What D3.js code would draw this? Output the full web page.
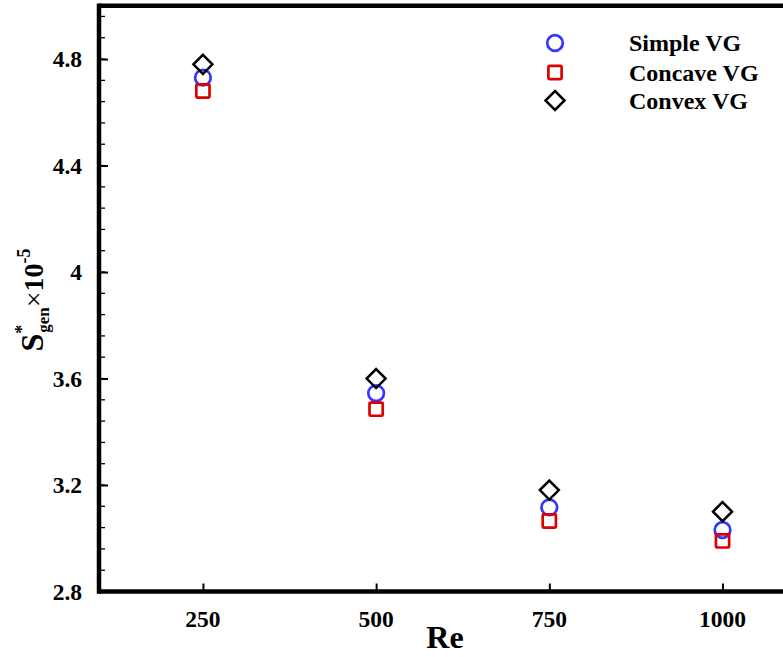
<!DOCTYPE html>
<html>
<head>
<meta charset="utf-8">
<script src="https://cdn.jsdelivr.net/npm/d3@7"></script>
<style>
  html, body { margin: 0; padding: 0; background: #fff; }
  svg { display: block; }
  text { font-family: "Liberation Serif", "Times New Roman", serif; font-weight: bold; }
</style>
</head>
<body>
<svg id="chart" width="783" height="657"></svg>
<script>
const reynolds = [250, 500, 750, 1000];
const simpleVG = [4.73, 3.545, 3.116, 3.031];
const concaveVG = [4.68, 3.485, 3.065, 2.99];
const convexVG = [4.78, 3.60, 3.181, 3.10];
const seriesNames = ["Simple VG", "Concave VG", "Convex VG"];
const xTicks = [250, 500, 750, 1000];
const yTicks = [2.8, 3.2, 3.6, 4.0, 4.4, 4.8];
const yTickLabels = ["2.8", "3.2", "3.6", "4", "4.4", "4.8"];

const svg = d3.select("#chart");
const x = d3.scaleLinear().domain([100, 1100]).range([99, 791.8]);
const y = d3.scaleLinear().domain([2.8, 5.0]).range([591.5, 5.8]);

const colors = ["#3535ff", "#dd0000", "#000000"];
const series = [simpleVG, concaveVG, convexVG];
const shapes = ["circle", "square", "diamond"];

// minor y ticks
const minorY = d3.range(0, 28).map(i => +(2.8 + i * 0.08).toFixed(2)).filter(v => v <= 5.0);
svg.append("g").selectAll("line").data(minorY).join("line")
  .attr("x1", x(100)).attr("x2", x(100) + 6)
  .attr("y1", d => y(d)).attr("y2", d => y(d))
  .attr("stroke", "#000").attr("stroke-width", 1.3);

// major y ticks
const yAxis = d3.axisRight(y).tickValues(yTicks).tickSize(9).tickFormat("");
const gy = svg.append("g").attr("transform", `translate(${x(100)},0)`).call(yAxis);
gy.select(".domain").remove();
gy.selectAll(".tick line").attr("stroke-width", 2);

// y tick labels
svg.append("g").selectAll("text").data(yTicks).join("text")
  .attr("x", 82).attr("y", d => y(d)).attr("dy", "0.35em")
  .attr("text-anchor", "end").attr("font-size", 23.5)
  .text((d, i) => yTickLabels[i]);

// x ticks
const xAxis = d3.axisTop(x).tickValues(xTicks).tickSize(8).tickFormat("");
const gx = svg.append("g").attr("transform", `translate(0,${y(2.8)})`).call(xAxis);
gx.select(".domain").remove();
gx.selectAll(".tick line").attr("stroke-width", 2);

svg.append("g").selectAll("text").data(xTicks).join("text")
  .attr("x", d => x(d)).attr("y", 626.5)
  .attr("text-anchor", "middle").attr("font-size", 23.5)
  .text(d => d);

// frame lines
svg.append("line").attr("x1", x(100)).attr("x2", x(1100)).attr("y1", y(2.8)).attr("y2", y(2.8))
  .attr("stroke", "#000").attr("stroke-width", 4.5);
svg.append("line").attr("x1", x(100)).attr("x2", x(1100)).attr("y1", y(5.0)).attr("y2", y(5.0))
  .attr("stroke", "#000").attr("stroke-width", 4.5);
svg.append("line").attr("x1", x(100)).attr("x2", x(100)).attr("y1", y(5.0) - 2.25).attr("y2", y(2.8) + 2.25)
  .attr("stroke", "#000").attr("stroke-width", 4.5);

// markers
function drawMarker(g, shape, cx, cy, color) {
  if (shape === "circle") {
    g.append("circle").attr("cx", cx).attr("cy", cy).attr("r", 7.8)
      .attr("fill", "none").attr("stroke", color).attr("stroke-width", 2.7);
  } else if (shape === "square") {
    g.append("rect").attr("x", cx - 6.6).attr("y", cy - 6.6).attr("width", 13.2).attr("height", 13.2)
      .attr("rx", 1).attr("fill", "none").attr("stroke", color).attr("stroke-width", 2.7);
  } else {
    const s = 9.5;
    g.append("path").attr("d", `M${cx},${cy - s}L${cx + s},${cy}L${cx},${cy + s}L${cx - s},${cy}Z`)
      .attr("fill", "none").attr("stroke", color).attr("stroke-width", 2.5).attr("stroke-linejoin", "miter");
  }
}
const marks = svg.append("g");
series.forEach((vals, si) => {
  vals.forEach((v, i) => drawMarker(marks, shapes[si], x(reynolds[i]), y(v), colors[si]));
});

// legend
const legY = [43, 72.5, 100.5];
const leg = svg.append("g");
seriesNames.forEach((name, i) => {
  drawMarker(leg, shapes[i], 555, legY[i], colors[i]);
  leg.append("text").attr("x", 629).attr("y", legY[i]).attr("dy", "0.35em")
    .attr("font-size", 24).text(name);
});

// axis titles
svg.append("text").attr("x", 445).attr("y", 648).attr("text-anchor", "middle")
  .attr("font-size", 32).text("Re");

const yl = svg.append("text").attr("transform", "translate(43,300) rotate(-90)")
  .attr("text-anchor", "middle");
yl.append("tspan").attr("font-size", 32).text("S");
yl.append("tspan").attr("font-size", 18).attr("dy", -15).text("*");
yl.append("tspan").attr("font-size", 17).attr("dx", -8).attr("dy", 21).text("gen");
yl.append("tspan").attr("font-size", 28).attr("font-weight", "normal").attr("dy", -6).text("\u00d7");
yl.append("tspan").attr("font-size", 28).text("10");
yl.append("tspan").attr("font-size", 18).attr("dy", -13).text("-5");
</script>
</body>
</html>
